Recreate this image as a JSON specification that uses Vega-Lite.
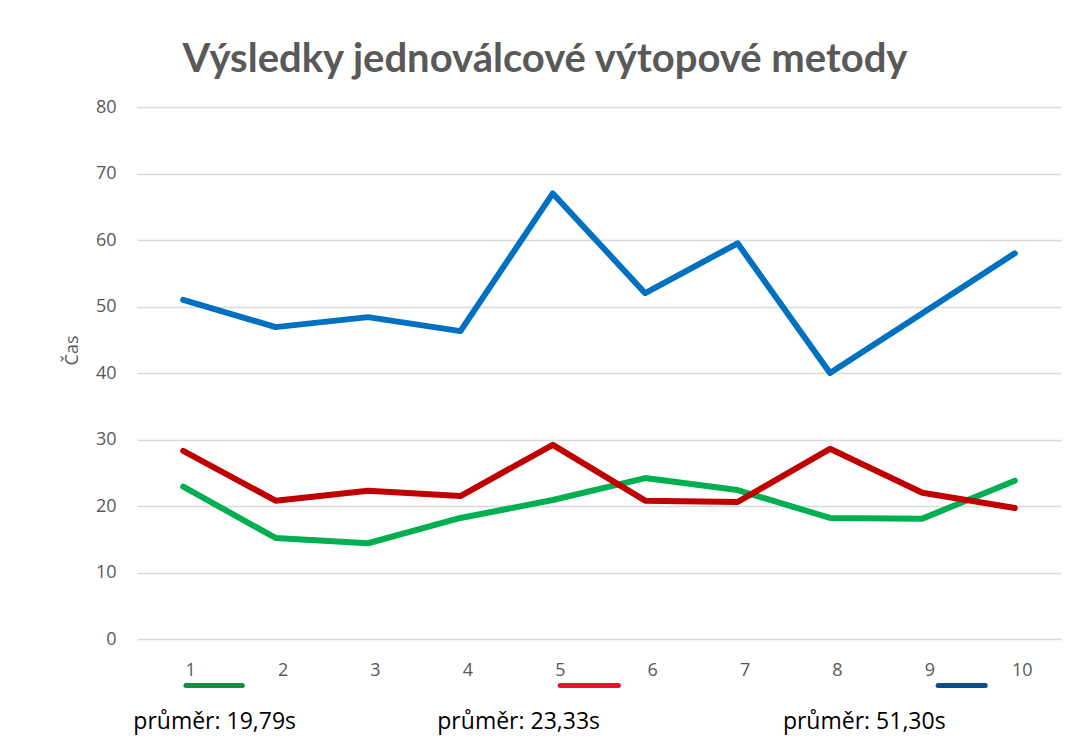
{
  "$schema": "https://vega.github.io/schema/vega-lite/v6.json",
  "width": 924,
  "height": 532,
  "autosize": {"type": "none"},
  "padding": {"left": 137, "top": 107, "right": 9, "bottom": 99},
  "background": "white",
  "title": {
    "text": "Výsledky jednoválcové výtopové metody",
    "font": "Lato",
    "fontSize": 40,
    "fontWeight": "bold",
    "color": "#595959",
    "anchor": "middle",
    "baseline": "alphabetic",
    "dx": -54,
    "offset": -14
  },
  "config": {
    "view": {"stroke": null},
    "font": "Open Sans"
  },
  "datasets": {
    "mereni": [
      {"run": 1, "series": "A", "cas": 22.9},
      {"run": 2, "series": "A", "cas": 15.2},
      {"run": 3, "series": "A", "cas": 14.4},
      {"run": 4, "series": "A", "cas": 18.2},
      {"run": 5, "series": "A", "cas": 20.9},
      {"run": 6, "series": "A", "cas": 24.2},
      {"run": 7, "series": "A", "cas": 22.4},
      {"run": 8, "series": "A", "cas": 18.2},
      {"run": 9, "series": "A", "cas": 18.1},
      {"run": 10, "series": "A", "cas": 23.8},
      {"run": 1, "series": "B", "cas": 28.3},
      {"run": 2, "series": "B", "cas": 20.8},
      {"run": 3, "series": "B", "cas": 22.3},
      {"run": 4, "series": "B", "cas": 21.5},
      {"run": 5, "series": "B", "cas": 29.2},
      {"run": 6, "series": "B", "cas": 20.8},
      {"run": 7, "series": "B", "cas": 20.6},
      {"run": 8, "series": "B", "cas": 28.6},
      {"run": 9, "series": "B", "cas": 22.0},
      {"run": 10, "series": "B", "cas": 19.7},
      {"run": 1, "series": "C", "cas": 51.0},
      {"run": 2, "series": "C", "cas": 46.9},
      {"run": 3, "series": "C", "cas": 48.4},
      {"run": 4, "series": "C", "cas": 46.3},
      {"run": 5, "series": "C", "cas": 67.0},
      {"run": 6, "series": "C", "cas": 52.0},
      {"run": 7, "series": "C", "cas": 59.5},
      {"run": 8, "series": "C", "cas": 40.0},
      {"run": 9, "series": "C", "cas": 49.0},
      {"run": 10, "series": "C", "cas": 58.0}
    ],
    "znacky": [
      {"key": "A", "from": 1.03, "to": 1.64, "level": -7},
      {"key": "B", "from": 5.08, "to": 5.71, "level": -7},
      {"key": "C", "from": 9.17, "to": 9.68, "level": -7}
    ],
    "prumery": [
      {"label": "průměr: 19,79s", "pos": 0.46, "level": -12.5},
      {"label": "průměr: 23,33s", "pos": 3.75, "level": -12.5},
      {"label": "průměr: 51,30s", "pos": 7.49, "level": -12.5}
    ]
  },
  "layer": [
    {
      "data": {"name": "mereni"},
      "mark": {"type": "line", "strokeWidth": 6, "strokeCap": "round", "strokeJoin": "round", "clip": false},
      "encoding": {
        "x": {
          "field": "run",
          "type": "quantitative",
          "scale": {"domain": [0.5, 10.5], "nice": false, "zero": false},
          "axis": {
            "title": null,
            "values": [1, 2, 3, 4, 5, 6, 7, 8, 9, 10],
            "format": "d",
            "grid": false,
            "domain": false,
            "ticks": false,
            "labelFont": "Open Sans",
            "labelFontSize": 18,
            "labelColor": "#595959",
            "labelBaseline": "middle",
            "labelPadding": 31,
            "labelOffset": 7,
            "labelFlush": false
          }
        },
        "y": {
          "field": "cas",
          "type": "quantitative",
          "scale": {"domain": [0, 80], "nice": false},
          "axis": {
            "title": "Čas",
            "values": [0, 10, 20, 30, 40, 50, 60, 70, 80],
            "grid": true,
            "gridColor": "#d9d9d9",
            "gridWidth": 1.5,
            "domain": false,
            "ticks": false,
            "labelFont": "Open Sans",
            "labelFontSize": 18,
            "labelColor": "#595959",
            "labelPadding": 21,
            "titleFont": "Open Sans",
            "titleFontSize": 18,
            "titleFontWeight": "normal",
            "titleColor": "#595959",
            "titleBaseline": "alphabetic",
            "titleX": -60,
            "titleY": 243
          }
        },
        "color": {
          "field": "series",
          "type": "nominal",
          "scale": {"domain": ["A", "B", "C"], "range": ["#00B050", "#C00000", "#0070C0"]},
          "legend": null
        }
      }
    },
    {
      "data": {"name": "znacky"},
      "mark": {"type": "rule", "strokeWidth": 5, "strokeCap": "round", "clip": false},
      "encoding": {
        "x": {"field": "from", "type": "quantitative"},
        "x2": {"field": "to"},
        "y": {"field": "level", "type": "quantitative"},
        "color": {
          "field": "key",
          "type": "nominal",
          "scale": {"domain": ["A", "B", "C"], "range": ["#0F9143", "#E8132A", "#0B4F8F"]},
          "legend": null
        }
      }
    },
    {
      "data": {"name": "prumery"},
      "mark": {"type": "text", "align": "left", "baseline": "middle", "font": "Open Sans", "fontSize": 23, "color": "#000000", "clip": false},
      "encoding": {
        "x": {"field": "pos", "type": "quantitative"},
        "y": {"field": "level", "type": "quantitative"},
        "text": {"field": "label", "type": "nominal"}
      }
    }
  ],
  "resolve": {"scale": {"color": "independent"}}
}
